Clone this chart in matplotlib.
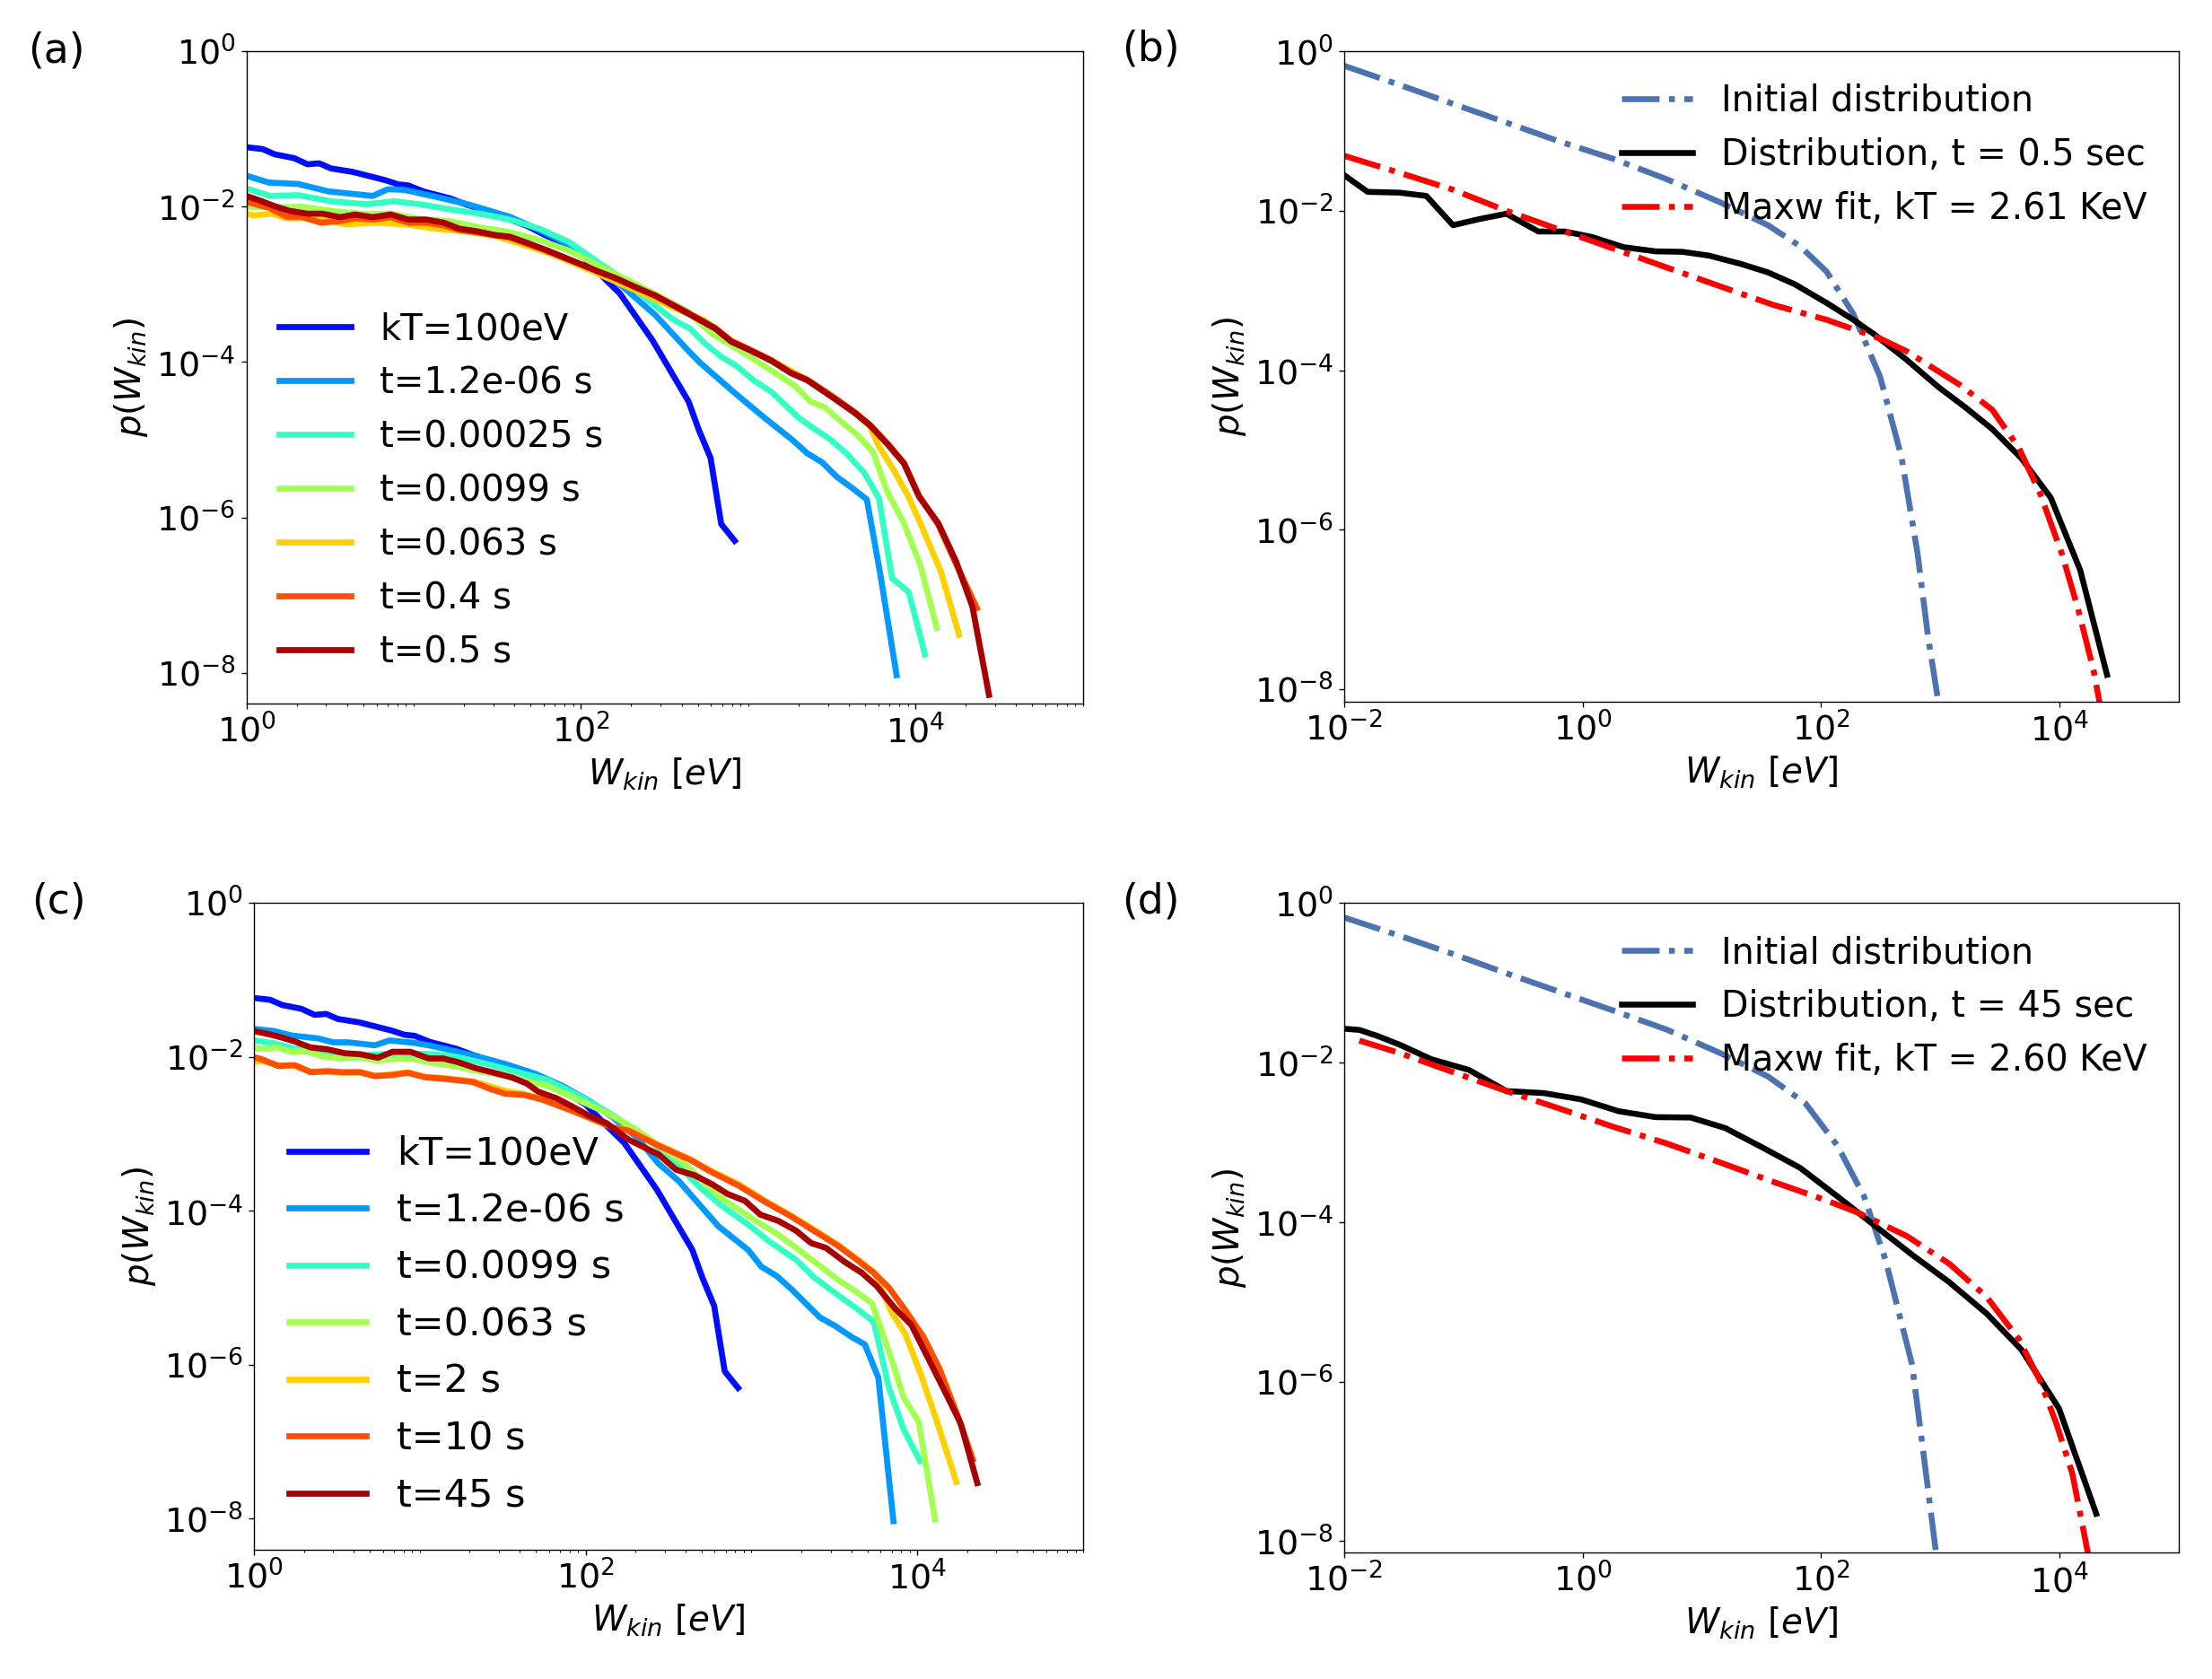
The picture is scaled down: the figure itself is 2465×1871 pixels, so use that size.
import matplotlib
matplotlib.use("Agg")
import matplotlib.pyplot as plt
import numpy as np
from matplotlib.ticker import LogLocator, NullLocator, NullFormatter

# ---------------- data ----------------
# panels (a) and (c): initial kT = 100 eV distribution
w_kT100 = [1.0, 1.25, 1.48, 1.93, 2.32, 2.73, 3.2, 4.3, 5.3, 6.7, 8.1, 9.3, 11.5, 16.6, 21,
           28, 38, 48, 61, 79, 100, 128, 171, 268, 440, 506, 596, 690, 830]
p_kT100 = [5.8e-2, 5.5e-2, 4.7e-2, 4.2e-2, 3.5e-2, 3.6e-2, 3.1e-2, 2.8e-2, 2.5e-2, 2.2e-2,
           1.93e-2, 1.87e-2, 1.56e-2, 1.27e-2, 1.05e-2, 8.6e-3, 6.8e-3, 5.6e-3, 4.3e-3, 3.3e-3,
           2.4e-3, 1.4e-3, 7.6e-4, 1.9e-4, 3.1e-5, 1.35e-5, 5.8e-6, 8.2e-7, 5.0e-7]

# panel (a)
a_labels = ["kT=100eV", "t=1.2e-06 s", "t=0.00025 s", "t=0.0099 s", "t=0.063 s", "t=0.4 s", "t=0.5 s"]
a_w_t1 = [1.0, 1.36, 2.05, 3.08, 5.7, 7.0, 8.77, 12.9, 21.1, 37.5, 56.5, 96.2, 128, 178, 279,
          438, 515, 809, 1220, 1840, 2250, 2770, 3400, 4170, 5120, 6150, 7710]
a_p_t1 = [2.5e-2, 2.04e-2, 1.95e-2, 1.57e-2, 1.37e-2, 1.67e-2, 1.64e-2, 1.37e-2, 1.07e-2, 7.4e-3,
          5.0e-3, 2.8e-3, 1.58e-3, 9.3e-4, 4.0e-4, 1.4e-4, 9.8e-5, 4.2e-5, 2.0e-5, 9.9e-6,
          6.7e-6, 5.1e-6, 3.3e-6, 2.4e-6, 1.7e-6, 1.9e-7, 9.3e-9]
a_w_t2 = [1.0, 1.39, 2.05, 3.21, 5.25, 7.6, 11.0, 16.5, 24.9, 37.5, 56.5, 85, 128, 178, 251,
          357, 448, 550, 689, 845, 1080, 1380, 2000, 2450, 3130, 3850, 4920, 6040, 7260, 9100, 11400]
a_p_t2 = [1.71e-2, 1.37e-2, 1.40e-2, 1.17e-2, 1.07e-2, 1.17e-2, 1.07e-2, 9.2e-3, 8.1e-3, 6.8e-3,
          5.2e-3, 3.5e-3, 1.89e-3, 1.18e-3, 6.3e-4, 3.5e-4, 2.7e-4, 1.74e-4, 1.17e-4, 9.0e-5,
          5.8e-5, 4.1e-5, 1.92e-5, 1.41e-5, 9.9e-6, 6.7e-6, 3.8e-6, 1.77e-6, 1.64e-7, 1.1e-7, 1.73e-8]
a_w_t3 = [1.0, 1.42, 2.13, 3.21, 4.84, 7.3, 11.0, 16.5, 24.9, 37.5, 56.5, 85, 128, 193, 291,
          438, 608, 955, 1500, 1910, 2350, 2880, 3540, 4530, 5560, 6810, 8530, 10700, 13400]
a_p_t3 = [1.0e-2, 9.7e-3, 1.0e-2, 8.8e-3, 8.1e-3, 8.1e-3, 6.9e-3, 6.5e-3, 5.4e-3, 4.7e-3,
          3.7e-3, 2.7e-3, 1.73e-3, 1.11e-3, 7.1e-4, 4.4e-4, 2.3e-4, 1.28e-4, 6.9e-5, 4.9e-5,
          3.1e-5, 2.6e-5, 1.76e-5, 1.13e-5, 7.0e-6, 2.1e-6, 8.4e-7, 2.4e-7, 3.8e-8]
a_w_t4 = [1.0, 1.11, 1.42, 1.74, 2.62, 3.94, 5.94, 8.95, 13.5, 20.3, 30.5, 46, 69, 104, 157,
          237, 357, 537, 794, 1380, 2260, 3260, 4350, 5330, 6030, 7400, 9080, 11100, 14200, 18200]
a_p_t4 = [8.1e-3, 7.7e-3, 8.1e-3, 7.1e-3, 7.1e-3, 5.9e-3, 6.2e-3, 5.9e-3, 5.2e-3, 4.8e-3,
          4.2e-3, 3.2e-3, 2.4e-3, 1.65e-3, 1.11e-3, 7.5e-4, 5.0e-4, 3.5e-4, 1.9e-4, 1.05e-4,
          5.9e-5, 3.5e-5, 2.2e-5, 1.5e-5, 8.3e-6, 4.1e-6, 1.85e-6, 7.0e-7, 2.0e-7, 3.1e-8]
a_w_t5 = [1.0, 1.36, 1.74, 2.13, 2.79, 3.63, 4.46, 5.7, 7.3, 9.3, 11.9, 15.2, 18.7, 24.9, 37.5,
          48, 61, 78.5, 100, 128, 164, 209, 279, 421, 634, 794, 995, 1380, 1800, 2260, 3260,
          4350, 5330, 6820, 8550, 10500, 13700, 17500, 23300]
a_p_t5 = [1.15e-2, 9.7e-3, 7.4e-3, 7.4e-3, 6.2e-3, 6.5e-3, 7.1e-3, 6.8e-3, 7.3e-3, 6.2e-3,
          6.2e-3, 5.7e-3, 5.0e-3, 4.6e-3, 4.0e-3, 3.3e-3, 2.75e-3, 2.2e-3, 1.8e-3, 1.45e-3,
          1.18e-3, 9.3e-4, 7.2e-4, 4.5e-4, 2.75e-4, 1.85e-4, 1.48e-4, 1.05e-4, 7.3e-5, 5.9e-5,
          3.5e-5, 2.25e-5, 1.56e-5, 8.9e-6, 5.0e-6, 1.9e-6, 8.0e-7, 2.5e-7, 6.8e-8]
a_w_t6 = [1.0, 1.20, 1.48, 1.81, 2.32, 2.84, 3.63, 4.46, 5.7, 7.3, 9.3, 11.9, 15.2, 18.7, 23.9,
          30.5, 37.5, 48, 61, 78.5, 100, 128, 164, 209, 279, 421, 634, 794, 995, 1380, 1800,
          2260, 3260, 4350, 5330, 6820, 8550, 10500, 13700, 17500, 21900, 27500]
a_p_t6 = [1.37e-2, 1.20e-2, 1.01e-2, 8.8e-3, 8.1e-3, 8.1e-3, 7.3e-3, 7.9e-3, 7.3e-3, 7.9e-3,
          6.8e-3, 6.8e-3, 6.2e-3, 5.2e-3, 4.8e-3, 4.3e-3, 4.1e-3, 3.4e-3, 2.8e-3, 2.25e-3,
          1.81e-3, 1.45e-3, 1.18e-3, 9.3e-4, 7.1e-4, 4.4e-4, 2.7e-4, 1.82e-4, 1.46e-4, 1.03e-4,
          7.2e-5, 5.8e-5, 3.4e-5, 2.2e-5, 1.54e-5, 8.7e-6, 4.9e-6, 1.85e-6, 8.4e-7, 2.7e-7,
          7.1e-8, 5.2e-9]

# panel (c)
c_labels = ["kT=100eV", "t=1.2e-06 s", "t=0.0099 s", "t=0.063 s", "t=2 s", "t=10 s", "t=45 s"]
c_w_t1 = [1.0, 1.32, 1.68, 2.44, 3.0, 3.69, 5.36, 6.58, 9.16, 11.3, 17.0, 25.7, 34.4, 49.8, 72.3,
          109, 146, 203, 275, 367, 631, 955, 1150, 1420, 1750, 2590, 3190, 4010, 4830, 5820, 7180]
c_p_t1 = [2.3e-2, 2.16e-2, 1.89e-2, 1.73e-2, 1.54e-2, 1.54e-2, 1.41e-2, 1.63e-2, 1.52e-2, 1.41e-2,
          1.16e-2, 9.3e-3, 7.8e-3, 6.0e-3, 4.2e-3, 2.55e-3, 1.63e-3, 9.0e-4, 4.1e-4, 2.4e-4,
          6.3e-5, 3.1e-5, 1.87e-5, 1.42e-5, 9.5e-6, 4.1e-6, 3.2e-6, 2.3e-6, 1.83e-6, 6.8e-7, 9.3e-9]
c_w_t2 = [1.0, 1.34, 1.76, 2.65, 4.54, 7.45, 12.2, 17.0, 25.7, 38.9, 58.7, 88.9, 134, 203, 307,
          491, 658, 955, 1280, 1860, 2380, 3330, 4450, 5470, 6750, 8300, 10400]
c_p_t2 = [1.63e-2, 1.49e-2, 1.27e-2, 1.16e-2, 1.04e-2, 1.11e-2, 1.08e-2, 9.9e-3, 8.0e-3, 6.3e-3,
          5.0e-3, 3.2e-3, 1.95e-3, 1.09e-3, 5.5e-4, 2.0e-4, 1.17e-4, 6.6e-5, 4.0e-5, 2.3e-5,
          1.37e-5, 8.0e-6, 5.1e-6, 3.6e-6, 5.0e-7, 1.42e-7, 5.6e-8]
c_w_t3 = [1.0, 1.21, 1.37, 1.68, 2.07, 2.55, 3.26, 4.36, 5.58, 7.45, 9.16, 11.3, 17.0, 25.7, 38.9,
          58.7, 88.9, 134, 200, 282, 417, 631, 1040, 1450, 1860, 2380, 3330, 4270, 5360, 6750,
          8300, 10200, 12800]
c_p_t3 = [1.29e-2, 1.27e-2, 1.33e-2, 1.16e-2, 1.18e-2, 1.02e-2, 9.5e-3, 9.7e-3, 8.9e-3, 9.5e-3,
          9.3e-3, 8.5e-3, 7.4e-3, 6.2e-3, 5.2e-3, 4.2e-3, 2.8e-3, 1.87e-3, 1.15e-3, 6.8e-4,
          3.7e-4, 1.55e-4, 7.6e-5, 4.9e-5, 3.3e-5, 2.2e-5, 1.27e-5, 8.9e-6, 6.2e-6, 1.48e-6,
          3.7e-7, 1.82e-7, 9.8e-9]
c_w_t4 = [1.0, 1.12, 1.4, 1.76, 2.2, 2.77, 3.4, 4.36, 5.36, 6.87, 8.45, 10.8, 13.8, 21, 26.8,
          33, 42, 54, 69, 89, 114, 146, 181, 275, 434, 556, 843, 1220, 1710, 2380, 3330, 4450,
          5470, 7030, 8470, 10600, 13100, 17200]
c_p_t4 = [8.5e-3, 8.8e-3, 7.8e-3, 7.6e-3, 6.4e-3, 6.4e-3, 6.2e-3, 6.3e-3, 5.7e-3, 5.9e-3,
          6.3e-3, 5.5e-3, 5.3e-3, 4.8e-3, 4.1e-3, 3.6e-3, 3.3e-3, 2.85e-3, 2.35e-3, 1.9e-3,
          1.52e-3, 1.22e-3, 1.12e-3, 7.2e-4, 4.6e-4, 3.4e-4, 2.2e-4, 1.33e-4, 8.8e-5, 5.7e-5,
          3.6e-5, 2.25e-5, 1.6e-5, 4.7e-6, 2.5e-6, 7.1e-7, 1.87e-7, 3.0e-8]
c_w_t5 = [1.0, 1.11, 1.40, 1.76, 2.20, 2.77, 3.40, 4.36, 5.36, 6.85, 8.45, 10.8, 13.8, 20.9, 26.8,
          33.0, 42.3, 54.1, 69.3, 88.9, 114, 146, 181, 275, 434, 556, 843, 1220, 1710, 2380,
          3330, 4450, 5470, 6750, 8470, 10900, 13600, 17500, 21600]
c_p_t5 = [9.9e-3, 9.3e-3, 7.6e-3, 7.8e-3, 6.3e-3, 6.5e-3, 6.3e-3, 6.3e-3, 5.6e-3, 5.8e-3,
          6.2e-3, 5.4e-3, 5.2e-3, 4.7e-3, 3.8e-3, 3.3e-3, 3.2e-3, 2.8e-3, 2.3e-3, 1.87e-3,
          1.50e-3, 1.20e-3, 1.10e-3, 7.0e-4, 4.5e-4, 3.3e-4, 2.1e-4, 1.29e-4, 8.6e-5, 5.5e-5,
          3.5e-5, 2.2e-5, 1.56e-5, 1.0e-5, 5.1e-6, 2.3e-6, 8.9e-7, 2.2e-7, 5.9e-8]
c_w_t6 = [1.0, 1.21, 1.43, 1.76, 2.20, 2.77, 3.54, 4.36, 5.58, 6.85, 8.79, 11.3, 13.8, 17.0, 21.8,
          28.0, 35.8, 44.1, 52.0, 66.5, 81.8, 105, 134, 181, 275, 352, 452, 581, 714, 916, 1130,
          1450, 1860, 2290, 2810, 3610, 4630, 5700, 7330, 9200, 11600, 14900, 18300, 23000]
c_p_t6 = [2.16e-2, 1.98e-2, 1.81e-2, 1.58e-2, 1.32e-2, 1.25e-2, 1.11e-2, 1.08e-2, 9.7e-3, 1.16e-2,
          1.16e-2, 9.5e-3, 9.5e-3, 8.5e-3, 7.1e-3, 6.2e-3, 5.4e-3, 4.5e-3, 3.5e-3, 2.9e-3,
          2.3e-3, 1.71e-3, 1.37e-3, 8.4e-4, 5.4e-4, 3.4e-4, 2.9e-4, 2.2e-4, 1.66e-4, 1.34e-4,
          8.9e-5, 7.4e-5, 5.5e-5, 3.8e-5, 3.3e-5, 2.2e-5, 1.56e-5, 1.05e-5, 5.4e-6, 3.3e-6,
          1.23e-6, 4.2e-7, 1.71e-7, 2.9e-8]

# panel (b)
b_w_init = [0.01, 0.0291, 0.0817, 0.229, 0.641, 1.80, 5.05, 14.2, 35.8, 66.5, 111, 186, 312,
            471, 643, 789, 1050]
b_p_init = [0.66, 0.38, 0.22, 0.128, 0.074, 0.045, 0.025, 0.0128, 6.6e-3, 3.6e-3, 1.73e-3,
            5.1e-4, 8.3e-5, 8.3e-6, 5.1e-7, 4.5e-8, 3e-9]
b_w_dist = [0.01, 0.0157, 0.0291, 0.0488, 0.0817, 0.137, 0.229, 0.425, 0.711, 1.19, 2.21, 4.10,
            6.87, 11.5, 21.4, 35.8, 60, 111, 186, 281, 522, 970, 1630, 2720, 4800, 8450, 14900, 25000]
b_p_dist = [2.8e-2, 1.73e-2, 1.69e-2, 1.54e-2, 6.6e-3, 7.9e-3, 9.2e-3, 5.5e-3, 5.5e-3, 4.7e-3,
            3.5e-3, 3.1e-3, 3.06e-3, 2.74e-3, 2.15e-3, 1.69e-3, 1.20e-3, 7.0e-4, 4.3e-4, 2.8e-4,
            1.35e-4, 6.1e-5, 3.4e-5, 1.83e-5, 7.8e-6, 2.5e-6, 3.1e-7, 1.51e-8]
b_w_fit = [0.01, 0.0291, 0.0817, 0.229, 0.641, 1.80, 5.05, 14.2, 39.7, 111, 312, 522, 875, 1470,
           2720, 4560, 6890, 10400, 14200, 19300, 21800]
b_p_fit = [4.9e-2, 3.0e-2, 1.84e-2, 1.0e-2, 5.8e-3, 3.37e-3, 1.95e-3, 1.13e-3, 6.6e-4, 4.3e-4,
           2.5e-4, 1.73e-4, 1.06e-4, 6.5e-5, 3.2e-5, 1.06e-5, 2.8e-6, 5.1e-7, 1.05e-7, 1.71e-8, 6.4e-9]
b_labels = ["Initial distribution", "Distribution, t = 0.5 sec", "Maxw fit, kT = 2.61 KeV"]

# panel (d)
d_w_init = [0.01, 0.0291, 0.0817, 0.229, 0.641, 1.80, 5.05, 14.2, 35.8, 73.6, 137, 229, 346,
            579, 713, 875, 970]
d_p_init = [0.66, 0.39, 0.23, 0.132, 0.077, 0.045, 0.026, 0.0132, 6.7e-3, 3.1e-3, 9.1e-4,
            2.1e-4, 3.4e-5, 1.64e-6, 1.45e-7, 1.28e-8, 3.8e-9]
d_w_dist = [0.01, 0.0134, 0.0193, 0.0291, 0.054, 0.111, 0.229, 0.471, 0.968, 2.0, 4.10, 8.04,
            15.7, 32.3, 66.5, 137, 254, 579, 1190, 2450, 4800, 9890, 20300]
d_p_dist = [2.66e-2, 2.57e-2, 2.14e-2, 1.68e-2, 1.10e-2, 8.1e-3, 4.4e-3, 4.15e-3, 3.46e-3, 2.46e-3,
            2.07e-3, 2.05e-3, 1.51e-3, 8.6e-4, 4.8e-4, 2.1e-4, 1.02e-4, 3.9e-5, 1.76e-5, 7.1e-6,
            2.5e-6, 4.6e-7, 2.2e-8]
d_w_fit = [0.0134, 0.0291, 0.0817, 0.229, 0.641, 1.80, 5.05, 14.2, 39.7, 111, 207, 522, 1190,
           2450, 4560, 6890, 9380, 12800, 17400]
d_p_fit = [1.89e-2, 1.32e-2, 7.6e-3, 4.4e-3, 2.65e-3, 1.57e-3, 9.7e-4, 5.6e-4, 3.2e-4, 1.87e-4,
           1.30e-4, 6.7e-5, 3.0e-5, 1.15e-5, 3.4e-6, 1.01e-6, 3.0e-7, 7.0e-8, 6.7e-9]
d_labels = ["Initial distribution", "Distribution, t = 45 sec", "Maxw fit, kT = 2.60 KeV"]

# ---------------- figure ----------------
DPI = 124
W, H = 2465, 1871
fig = plt.figure(figsize=(W / DPI, H / DPI), dpi=DPI)
plt.rcParams['mathtext.fontset'] = 'dejavusans'


def box(x0, y0, x1, y1):
    # pixel box (top-left origin) -> figure fraction
    return [x0 / W, 1 - y1 / H, (x1 - x0) / W, (y1 - y0) / H]


ax_a = fig.add_axes(box(274.5, 57, 1206.6, 783.5))
ax_b = fig.add_axes(box(1498, 57.3, 2428, 781.7))
ax_c = fig.add_axes(box(283, 1006, 1207, 1726.7))
ax_d = fig.add_axes(box(1498, 1006.4, 2428, 1730.3))

jet = plt.cm.jet(np.arange(1, 8) * 0.1375)
lw_jet = 3.9
lw_bd = 3.8

a_series = [(w_kT100, p_kT100), (a_w_t1, a_p_t1), (a_w_t2, a_p_t2), (a_w_t3, a_p_t3),
            (a_w_t4, a_p_t4), (a_w_t5, a_p_t5), (a_w_t6, a_p_t6)]
c_series = [(w_kT100, p_kT100), (c_w_t1, c_p_t1), (c_w_t2, c_p_t2), (c_w_t3, c_p_t3),
            (c_w_t4, c_p_t4), (c_w_t5, c_p_t5), (c_w_t6, c_p_t6)]

for ax, series, labels, fs, bottom in [(ax_a, a_series, a_labels, 23.3, 10 ** -8.39),
                                       (ax_c, c_series, c_labels, 25.0, 10 ** -8.40)]:
    for (w, p), lab, col in zip(series, labels, jet):
        ax.plot(w, p, color=col, lw=lw_jet, label=lab)
    ax.set_xscale('log')
    ax.set_yscale('log')
    ax.set_xlim(1, 1e5)
    ax.set_ylim(bottom, 1)
    ax.set_xticks([1, 1e2, 1e4])
    ax.xaxis.set_minor_locator(LogLocator(base=10, subs=np.arange(1, 10), numticks=50))
    ax.xaxis.set_minor_formatter(NullFormatter())
    ax.legend(loc='lower left', frameon=False, fontsize=fs)

for ax, wi, pi, wd, pd_, wf, pf, labels, bottom in [
        (ax_b, b_w_init, b_p_init, b_w_dist, b_p_dist, b_w_fit, b_p_fit, b_labels, 10 ** -8.156),
        (ax_d, d_w_init, d_p_init, d_w_dist, d_p_dist, d_w_fit, d_p_fit, d_labels, 10 ** -8.146)]:
    ax.plot(wi, pi, '-.', color='#4C72B0', lw=lw_bd, label=labels[0])
    ax.plot(wd, pd_, '-', color='black', lw=lw_bd, label=labels[1])
    ax.plot(wf, pf, '-.', color='red', lw=lw_bd, label=labels[2])
    ax.set_xscale('log')
    ax.set_yscale('log')
    ax.set_xlim(1e-2, 1e5)
    ax.set_ylim(bottom, 1)
    ax.set_xticks([1e-2, 1, 1e2, 1e4])
    ax.xaxis.set_minor_locator(NullLocator())
    ax.legend(loc='upper right', frameon=False, fontsize=23.0)

for ax in [ax_a, ax_b, ax_c, ax_d]:
    ax.set_yticks([1, 1e-2, 1e-4, 1e-6, 1e-8])
    ax.yaxis.set_minor_locator(NullLocator())
    ax.tick_params(labelsize=22)
    ax.set_xlabel(r'$W_{kin}\ [eV]$', fontsize=22.5)
    ax.set_ylabel(r'$p(W_{kin})$', fontsize=22.5)

# panel letters
for txt, x, y in [("(a)", 31, 69), ("(b)", 1250, 68), ("(c)", 35, 1018), ("(d)", 1250, 1018)]:
    fig.text(x / W, 1 - y / H, txt, fontsize=26.6, ha='left', va='baseline')

fig.savefig('out.png', dpi=DPI)
